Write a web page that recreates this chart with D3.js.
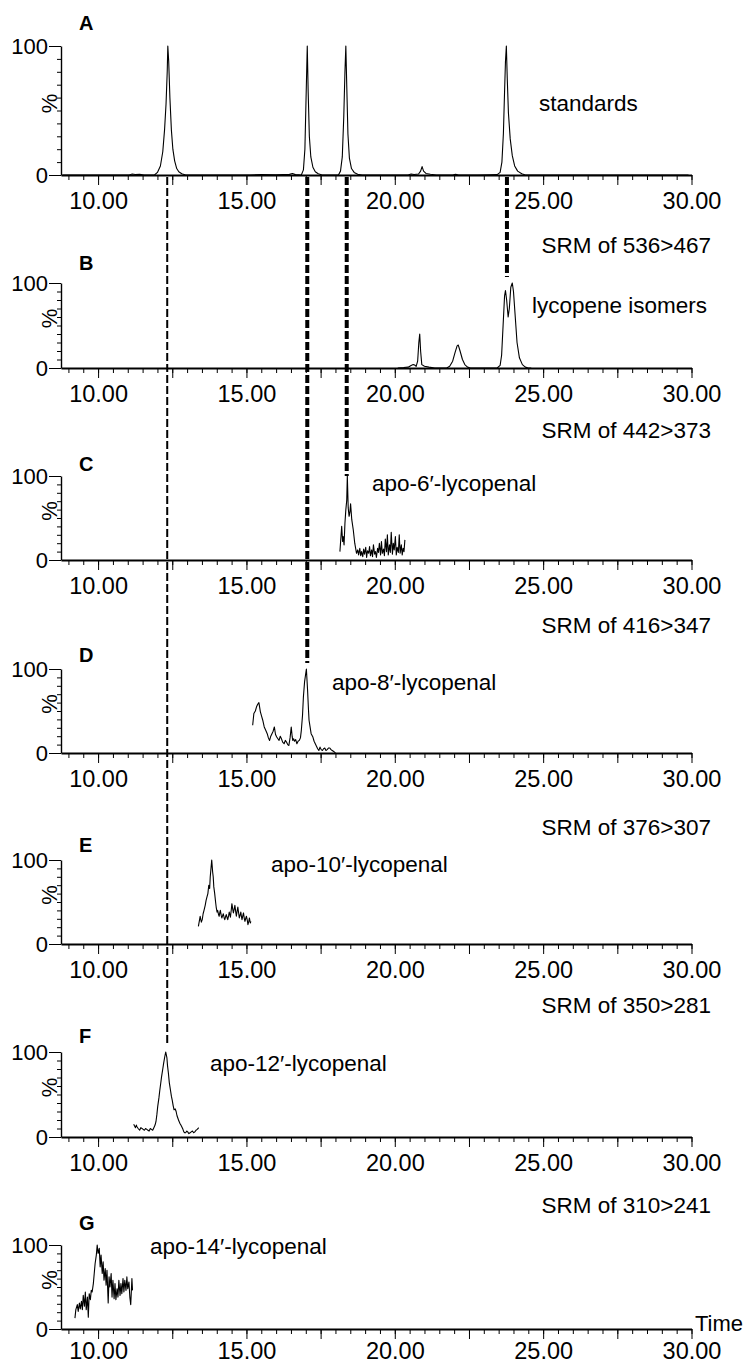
<!DOCTYPE html>
<html>
<head>
<meta charset="utf-8">
<script src="https://cdn.jsdelivr.net/npm/d3@7"></script>
<style>
  body { margin: 0; background: #fff; }
  svg text { font-family: "Liberation Sans", Arial, sans-serif; fill: #000; }
</style>
</head>
<body>
<script>
// ---- data ----
var panelLetters = ["A", "B", "C", "D", "E", "F", "G"];
var compoundNames = ["standards", "lycopene isomers", "apo-6\u2032-lycopenal", "apo-8\u2032-lycopenal",
  "apo-10\u2032-lycopenal", "apo-12\u2032-lycopenal", "apo-14\u2032-lycopenal"];
var srmLabels = ["", "SRM of 536>467", "SRM of 442>373", "SRM of 416>347",
  "SRM of 376>307", "SRM of 350>281", "SRM of 310>241"];
var xTickLabels = [10, 15, 20, 25, 30];
var yTickLabels = [0, 100];

// retention times joined by dashed lines, and the panel each line runs down to
var connectorTimes = [12.33, 17.05, 18.38, 23.78];
var connectorPanels = [5, 3, 2, 1];

// traces: [time (min), relative intensity (%)]
var standardsTrace = [
  [8.8,0],[11.05,0],[11.15,0.8],[11.25,0.4],[11.4,0.6],[11.55,0],[11.9,0],[12.0,2],[12.1,7],
  [12.18,18],[12.24,35],[12.29,55],[12.33,80],[12.35,100],[12.38,88],[12.42,60],[12.47,35],
  [12.52,20],[12.58,11],[12.65,5],[12.72,2.5],[12.82,1],[12.95,0],
  [15.1,0],[15.5,0.4],[16.0,0.2],[16.45,0.5],[16.55,1.2],[16.65,0.3],[16.85,0],[16.92,4],
  [16.97,20],[17.01,60],[17.05,100],[17.08,65],[17.12,30],[17.17,14],[17.24,6],[17.32,2.5],
  [17.42,1],[17.55,0],
  [18.1,0],[18.17,3],[18.23,14],[18.28,45],[18.32,80],[18.35,100],[18.38,70],[18.42,32],
  [18.47,13],[18.54,5],[18.63,2],[18.75,0.5],[18.9,0],
  [20.45,0],[20.55,0.8],[20.65,0.4],[20.8,0.8],[20.87,3],[20.92,6.5],[20.97,3],[21.05,1.2],
  [21.2,0.6],[21.4,0],[21.95,0],[22.05,0.6],[22.15,0],[22.8,0],[23.2,0.2],[23.45,0.3],
  [23.55,2],[23.61,10],[23.66,32],[23.7,65],[23.73,88],[23.76,100],[23.79,75],[23.83,48],
  [23.89,28],[23.96,15],[24.04,7],[24.14,3],[24.28,1],[24.4,0],[29.9,0]
];
var lycopeneTrace = [
  [20.1,0],[20.3,0.5],[20.45,1],[20.55,3],[20.62,4],[20.67,3.5],[20.72,2],[20.77,8],[20.81,30],
  [20.84,40],[20.87,20],[20.91,4],[21.0,2],[21.15,1],[21.35,0],[21.75,0],[21.85,2],[21.95,8],
  [22.03,18],[22.1,26],[22.14,27],[22.2,20],[22.28,10],[22.36,4],[22.45,1],[22.55,0],[23.45,0],
  [23.55,3],[23.6,15],[23.65,50],[23.7,85],[23.73,91],[23.77,80],[23.82,60],[23.86,70],
  [23.91,95],[23.96,100],[24.0,90],[24.06,60],[24.12,30],[24.2,12],[24.3,4],[24.4,1],[24.5,0],[24.6,0]
];
var apo6Trace = [
  [18.15,10],[18.18,25],[18.21,40],[18.24,22],[18.26,28],[18.29,18],[18.32,44],[18.35,60],
  [18.38,71],[18.4,100],[18.43,62],[18.46,52],[18.49,58],[18.51,67],[18.55,48],[18.6,36],
  [18.65,20],[18.71,8],[18.75,12],[18.78,6],[18.82,14],[18.85,5],[18.88,10],[18.92,4],[18.95,13],
  [18.98,7],[19.02,15],[19.05,3],[19.08,11],[19.12,8],[19.15,16],[19.18,5],[19.22,12],[19.25,4],
  [19.28,18],[19.32,7],[19.35,10],[19.38,3],[19.42,14],[19.45,9],[19.48,20],[19.52,6],[19.55,22],
  [19.58,8],[19.62,13],[19.65,5],[19.68,25],[19.72,10],[19.75,30],[19.78,6],[19.82,18],[19.85,9],
  [19.88,33],[19.92,7],[19.95,20],[19.98,12],[20.02,28],[20.05,6],[20.08,15],[20.12,9],[20.15,30],
  [20.18,8],[20.22,18],[20.25,6],[20.28,14],[20.31,10],[20.34,24]
];
var apo8Trace = [
  [15.21,33],[15.25,47],[15.3,50],[15.34,55],[15.38,58],[15.42,60],[15.47,49],[15.51,44],
  [15.55,39],[15.6,31],[15.65,27],[15.7,23],[15.74,18],[15.78,15],[15.82,20],[15.86,23],
  [15.9,26],[15.94,31],[15.98,22],[16.02,19],[16.06,17],[16.1,15],[16.14,20],[16.18,17],
  [16.22,13],[16.27,11],[16.31,15],[16.35,13],[16.39,10],[16.43,9],[16.47,18],[16.51,31],
  [16.54,20],[16.56,15],[16.59,17],[16.62,14],[16.66,16],[16.7,11],[16.74,14],[16.78,15],
  [16.82,18],[16.85,27],[16.89,45],[16.92,67],[16.96,85],[17.02,100],[17.06,75],[17.09,52],
  [17.11,39],[17.15,30],[17.18,23],[17.24,19],[17.28,14],[17.32,11],[17.36,8],[17.4,5],
  [17.44,3],[17.48,7],[17.52,4],[17.56,3],[17.6,5],[17.64,6],[17.68,3],[17.72,4],[17.77,6],
  [17.81,6],[17.85,4],[17.89,3],[17.93,2],[17.97,1],[18.0,0]
];
var apo10Trace = [
  [13.38,21],[13.41,27],[13.44,33],[13.48,26],[13.51,29],[13.54,36],[13.57,40],[13.61,46],
  [13.64,52],[13.67,56],[13.7,60],[13.73,70],[13.76,66],[13.78,80],[13.83,100],[13.86,86],
  [13.88,80],[13.9,68],[13.93,60],[13.96,50],[13.98,44],[14.01,38],[14.03,40],[14.06,35],
  [14.08,33],[14.1,37],[14.12,40],[14.15,34],[14.17,31],[14.2,34],[14.22,36],[14.25,31],
  [14.27,29],[14.3,33],[14.32,35],[14.35,31],[14.37,29],[14.4,34],[14.42,38],[14.44,35],
  [14.46,32],[14.49,41],[14.51,48],[14.54,41],[14.56,37],[14.59,42],[14.61,46],[14.64,38],
  [14.66,33],[14.69,40],[14.71,44],[14.74,36],[14.76,31],[14.79,35],[14.81,38],[14.83,33],
  [14.85,29],[14.88,34],[14.9,37],[14.93,30],[14.95,27],[14.98,31],[15.0,33],[15.03,28],
  [15.05,23],[15.08,27],[15.1,31],[15.13,25],[15.15,27]
];
var apo12Trace = [
  [11.2,15],[11.23,13],[11.26,11],[11.29,14],[11.31,12],[11.35,10],[11.4,8],[11.44,11],
  [11.48,10],[11.52,9],[11.56,8],[11.6,10],[11.64,9],[11.68,8],[11.72,7],[11.76,10],[11.8,9],
  [11.84,8],[11.88,11],[11.92,14],[11.95,18],[11.98,26],[12.01,36],[12.05,46],[12.08,55],
  [12.11,63],[12.14,71],[12.18,80],[12.21,87],[12.25,95],[12.28,100],[12.32,93],[12.34,84],
  [12.37,75],[12.4,64],[12.44,55],[12.47,48],[12.5,43],[12.53,37],[12.56,32],[12.6,33],
  [12.63,30],[12.66,25],[12.69,22],[12.72,19],[12.76,16],[12.79,14],[12.82,12],[12.86,9],
  [12.89,6],[12.92,5],[12.95,5],[12.99,7],[13.02,6],[13.06,4],[13.1,5],[13.14,6],[13.18,7],
  [13.22,5],[13.26,6],[13.3,8],[13.34,9],[13.37,10],[13.39,11]
];
var apo14Trace = [
  [9.22,13],[9.25,23],[9.3,29],[9.33,21],[9.37,31],[9.4,24],[9.44,33],[9.47,23],[9.5,40],
  [9.54,27],[9.57,44],[9.6,23],[9.64,38],[9.67,14],[9.7,42],[9.74,35],[9.77,46],[9.8,44],
  [9.84,54],[9.87,66],[9.9,78],[9.94,88],[9.97,100],[10.0,90],[10.04,96],[10.07,74],[10.1,88],
  [10.14,66],[10.17,80],[10.2,58],[10.24,72],[10.27,52],[10.3,70],[10.34,31],[10.37,62],
  [10.4,50],[10.44,66],[10.47,38],[10.5,58],[10.54,36],[10.57,54],[10.6,35],[10.64,48],
  [10.67,38],[10.7,58],[10.74,40],[10.77,54],[10.8,42],[10.84,60],[10.87,44],[10.9,58],
  [10.94,46],[10.97,62],[11.0,48],[11.04,56],[11.07,38],[11.1,29],[11.14,60],[11.16,46]
];
var traces = [standardsTrace, lycopeneTrace, apo6Trace, apo8Trace, apo10Trace, apo12Trace, apo14Trace];

// ---- layout ----
var W = 756, H = 1365;
var panelTop  = [46, 283, 476, 669, 860, 1052, 1245];
var panelBase = [175, 368, 560, 753, 944, 1137, 1329];
var letterY   = [30, 270, 471, 662, 852, 1043, 1230];
var srmY      = [0, 253, 438, 633, 835, 1013, 1213];
var nameX     = [539, 532, 372, 332, 271, 210, 150];
var nameY     = [111, 313, 491, 690, 872, 1071, 1254];

var svg = d3.select("body").append("svg")
  .attr("width", W)
  .attr("height", H);

var x = d3.scaleLinear().domain([8.75, 30]).range([61, 691.5]);

var line = d3.line()
  .x(function(d) { return x(d[0]); });

panelLetters.forEach(function(letter, i) {
  var y = d3.scaleLinear().domain([0, 100]).range([panelBase[i], panelTop[i]]);
  var g = svg.append("g");
  var labelGap = (i == 6) ? 13 : 17;

  // x axis: minor ticks, major ticks, labels
  var xMinor = g.append("g")
    .attr("transform", "translate(0," + panelBase[i] + ")")
    .call(d3.axisBottom(x).tickValues(d3.range(9, 30.01, 0.5)).tickSize(5).tickSizeOuter(0).tickFormat(""));
  xMinor.select(".domain").attr("stroke-width", 1.8);
  var xMajor = g.append("g")
    .attr("transform", "translate(0," + panelBase[i] + ")")
    .call(d3.axisBottom(x).tickValues(d3.range(10, 30.01, 2.5)).tickSize(10).tickSizeOuter(0).tickFormat(""));
  xMajor.select(".domain").remove();
  var xLab = g.append("g")
    .attr("transform", "translate(0," + panelBase[i] + ")")
    .call(d3.axisBottom(x).tickValues(xTickLabels).tickSize(0).tickPadding(labelGap).tickFormat(d3.format(".2f")));
  xLab.select(".domain").remove();
  xLab.selectAll("text").attr("font-size", 23.5).attr("font-family", null);

  // y axis
  var yMinor = g.append("g")
    .attr("transform", "translate(61,0)")
    .call(d3.axisLeft(y).tickValues(d3.range(0, 101, 10)).tickSize(4).tickSizeOuter(0).tickFormat(""));
  yMinor.select(".domain").attr("stroke-width", 1.4);
  var yMajor = g.append("g")
    .attr("transform", "translate(61,0)")
    .call(d3.axisLeft(y).tickValues(yTickLabels).tickSize(12).tickPadding(1));
  yMajor.select(".domain").remove();
  yMajor.selectAll("text").attr("font-size", 22).attr("font-family", null);

  g.append("text")
    .attr("transform", "translate(57," + ((panelTop[i] + panelBase[i]) / 2 - 7) + ") rotate(-90)")
    .attr("text-anchor", "middle")
    .attr("font-size", 22)
    .text("%");

  // trace
  line.y(function(d) { return y(d[1]); });
  g.append("path")
    .datum(traces[i])
    .attr("d", line)
    .attr("fill", "none")
    .attr("stroke", "#000")
    .attr("stroke-width", 1.1)
    .attr("stroke-linejoin", "round");

  // labels
  g.append("text")
    .attr("x", 79).attr("y", letterY[i])
    .attr("font-size", 20).attr("font-weight", "bold")
    .text(letter);
  g.append("text")
    .attr("x", nameX[i]).attr("y", nameY[i])
    .attr("font-size", 22.5)
    .text(compoundNames[i]);
  if (srmLabels[i]) {
    g.append("text")
      .attr("x", 711).attr("y", srmY[i])
      .attr("text-anchor", "end")
      .attr("font-size", 22.5)
      .text(srmLabels[i]);
  }
});

svg.append("text")
  .attr("x", 695).attr("y", 1331)
  .attr("font-size", 22)
  .text("Time");

// dashed connectors from the standards down to each compound
connectorTimes.forEach(function(t, k) {
  svg.append("line")
    .attr("x1", x(t)).attr("x2", x(t))
    .attr("y1", panelBase[0] + 2)
    .attr("y2", panelTop[connectorPanels[k]] - (connectorPanels[k] == 2 ? 0 : 6))
    .attr("stroke", "#000")
    .attr("stroke-width", k == 0 ? 2 : 4)
    .attr("stroke-dasharray", "8,3");
});
</script>
</body>
</html>
